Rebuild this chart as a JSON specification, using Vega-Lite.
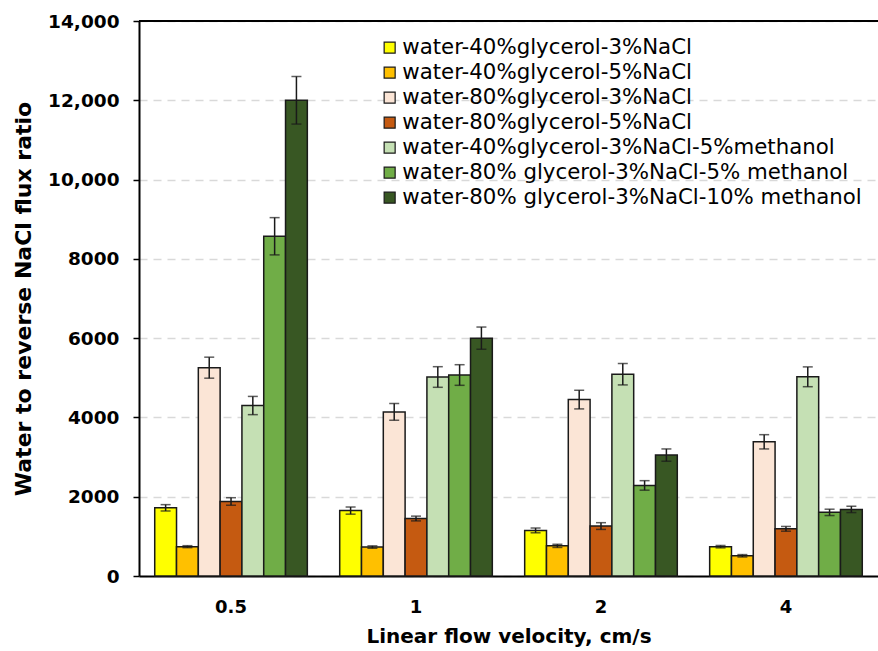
{
  "$schema": "https://vega.github.io/schema/vega-lite/v6.json",
  "width": 739,
  "height": 555,
  "autosize": {"type": "none"},
  "padding": {"left": 139, "top": 21, "right": 0, "bottom": 75},
  "background": "white",
  "config": {"view": {"stroke": null}, "font": "DejaVu Sans"},
  "datasets": {
    "bars": [
      {"v": "0.5", "s": "water-40%glycerol-3%NaCl", "y": 1720, "lo": 1640, "hi": 1800},
      {"v": "0.5", "s": "water-40%glycerol-5%NaCl", "y": 740, "lo": 715, "hi": 765},
      {"v": "0.5", "s": "water-80%glycerol-3%NaCl", "y": 5255, "lo": 4990, "hi": 5520},
      {"v": "0.5", "s": "water-80%glycerol-5%NaCl", "y": 1880, "lo": 1785, "hi": 1975},
      {"v": "0.5", "s": "water-40%glycerol-3%NaCl-5%methanol", "y": 4300, "lo": 4070, "hi": 4530},
      {"v": "0.5", "s": "water-80% glycerol-3%NaCl-5% methanol", "y": 8570, "lo": 8100, "hi": 9040},
      {"v": "0.5", "s": "water-80% glycerol-3%NaCl-10% methanol", "y": 12000, "lo": 11400, "hi": 12600},
      {"v": "1", "s": "water-40%glycerol-3%NaCl", "y": 1650, "lo": 1560, "hi": 1740},
      {"v": "1", "s": "water-40%glycerol-5%NaCl", "y": 730, "lo": 700, "hi": 760},
      {"v": "1", "s": "water-80%glycerol-3%NaCl", "y": 4140, "lo": 3930, "hi": 4350},
      {"v": "1", "s": "water-80%glycerol-5%NaCl", "y": 1450, "lo": 1390, "hi": 1510},
      {"v": "1", "s": "water-40%glycerol-3%NaCl-5%methanol", "y": 5020, "lo": 4760, "hi": 5280},
      {"v": "1", "s": "water-80% glycerol-3%NaCl-5% methanol", "y": 5070, "lo": 4810, "hi": 5330},
      {"v": "1", "s": "water-80% glycerol-3%NaCl-10% methanol", "y": 6000, "lo": 5720, "hi": 6280},
      {"v": "2", "s": "water-40%glycerol-3%NaCl", "y": 1150, "lo": 1090, "hi": 1210},
      {"v": "2", "s": "water-40%glycerol-5%NaCl", "y": 760, "lo": 720, "hi": 800},
      {"v": "2", "s": "water-80%glycerol-3%NaCl", "y": 4450, "lo": 4215, "hi": 4685},
      {"v": "2", "s": "water-80%glycerol-5%NaCl", "y": 1260, "lo": 1175, "hi": 1345},
      {"v": "2", "s": "water-40%glycerol-3%NaCl-5%methanol", "y": 5090, "lo": 4820, "hi": 5360},
      {"v": "2", "s": "water-80% glycerol-3%NaCl-5% methanol", "y": 2285, "lo": 2165, "hi": 2405},
      {"v": "2", "s": "water-80% glycerol-3%NaCl-10% methanol", "y": 3050, "lo": 2895, "hi": 3205},
      {"v": "4", "s": "water-40%glycerol-3%NaCl", "y": 740, "lo": 710, "hi": 770},
      {"v": "4", "s": "water-40%glycerol-5%NaCl", "y": 510, "lo": 480, "hi": 540},
      {"v": "4", "s": "water-80%glycerol-3%NaCl", "y": 3385, "lo": 3205, "hi": 3565},
      {"v": "4", "s": "water-80%glycerol-5%NaCl", "y": 1190, "lo": 1130, "hi": 1250},
      {"v": "4", "s": "water-40%glycerol-3%NaCl-5%methanol", "y": 5025, "lo": 4775, "hi": 5275},
      {"v": "4", "s": "water-80% glycerol-3%NaCl-5% methanol", "y": 1605, "lo": 1525, "hi": 1685},
      {"v": "4", "s": "water-80% glycerol-3%NaCl-10% methanol", "y": 1680, "lo": 1600, "hi": 1760}
    ],
    "frame": [{"top": 14000}]
  },
  "layer": [
    {
      "data": {"name": "bars"},
      "mark": {"type": "bar", "stroke": "#1a1a1a", "strokeWidth": 1.5},
      "encoding": {
        "x": {
          "field": "v", "type": "nominal", "sort": ["0.5", "1", "2", "4"],
          "scale": {"paddingInner": 0.175, "paddingOuter": 0.085},
          "axis": {
            "title": "Linear flow velocity, cm/s",
            "titleFont": "DejaVu Sans", "titleFontSize": 20, "titleFontWeight": "bold", "titleColor": "black", "titlePadding": 10,
            "labelFont": "DejaVu Sans", "labelFontSize": 18, "labelFontWeight": "bold", "labelColor": "black", "labelAngle": 0, "labelPadding": 22,
            "ticks": false, "domainColor": "black", "domainWidth": 2, "grid": false
          }
        },
        "xOffset": {
          "field": "s", "type": "nominal",
          "sort": ["water-40%glycerol-3%NaCl", "water-40%glycerol-5%NaCl", "water-80%glycerol-3%NaCl", "water-80%glycerol-5%NaCl", "water-40%glycerol-3%NaCl-5%methanol", "water-80% glycerol-3%NaCl-5% methanol", "water-80% glycerol-3%NaCl-10% methanol"],
          "scale": {"paddingInner": 0, "paddingOuter": 0}
        },
        "y": {
          "field": "y", "type": "quantitative",
          "scale": {"domain": [0, 14000], "nice": false},
          "axis": {
            "title": "Water to reverse NaCl flux ratio",
            "titleFont": "DejaVu Sans", "titleFontSize": 22, "titleFontWeight": "bold", "titleColor": "black", "titlePadding": 12,
            "labelFont": "DejaVu Sans", "labelFontSize": 18.5, "labelFontWeight": "bold", "labelColor": "black", "labelPadding": 14,
            "values": [0, 2000, 4000, 6000, 8000, 10000, 12000, 14000],
            "labelExpr": "datum.value >= 10000 ? format(datum.value, ',') : format(datum.value, 'd')",
            "domainColor": "black", "domainWidth": 2, "tickColor": "black", "tickWidth": 1.5, "tickSize": 6,
            "grid": true, "gridColor": "#d9d9d9", "gridDash": [8, 6], "gridWidth": 1.5
          }
        },
        "color": {
          "field": "s", "type": "nominal",
          "sort": ["water-40%glycerol-3%NaCl", "water-40%glycerol-5%NaCl", "water-80%glycerol-3%NaCl", "water-80%glycerol-5%NaCl", "water-40%glycerol-3%NaCl-5%methanol", "water-80% glycerol-3%NaCl-5% methanol", "water-80% glycerol-3%NaCl-10% methanol"],
          "scale": {
            "domain": ["water-40%glycerol-3%NaCl", "water-40%glycerol-5%NaCl", "water-80%glycerol-3%NaCl", "water-80%glycerol-5%NaCl", "water-40%glycerol-3%NaCl-5%methanol", "water-80% glycerol-3%NaCl-5% methanol", "water-80% glycerol-3%NaCl-10% methanol"],
            "range": ["#FFFF00", "#FFC000", "#FBE5D6", "#C55A11", "#C5E0B4", "#70AD47", "#385723"]
          },
          "legend": {
            "orient": "none", "legendX": 240, "legendY": 16, "title": null, "padding": 0,
            "symbolType": "square", "symbolSize": 121, "symbolStrokeColor": "#1a1a1a", "symbolStrokeWidth": 1.2,
            "labelFont": "DejaVu Sans", "labelFontSize": 21.3, "labelColor": "black", "labelLimit": 700,
            "rowPadding": 3, "labelOffset": 2
          }
        }
      }
    },
    {
      "data": {"name": "bars"},
      "mark": {"type": "rule", "color": "#1a1a1a", "strokeWidth": 1.5},
      "encoding": {
        "x": {"field": "v", "type": "nominal", "sort": ["0.5", "1", "2", "4"]},
        "xOffset": {"field": "s", "type": "nominal", "sort": ["water-40%glycerol-3%NaCl", "water-40%glycerol-5%NaCl", "water-80%glycerol-3%NaCl", "water-80%glycerol-5%NaCl", "water-40%glycerol-3%NaCl-5%methanol", "water-80% glycerol-3%NaCl-5% methanol", "water-80% glycerol-3%NaCl-10% methanol"]},
        "y": {"field": "lo", "type": "quantitative", "title": "Water to reverse NaCl flux ratio"},
        "y2": {"field": "hi"}
      }
    },
    {
      "data": {"name": "bars"},
      "mark": {"type": "tick", "orient": "horizontal", "color": "#1a1a1a", "size": 10, "thickness": 1.5},
      "encoding": {
        "x": {"field": "v", "type": "nominal", "sort": ["0.5", "1", "2", "4"]},
        "xOffset": {"field": "s", "type": "nominal", "sort": ["water-40%glycerol-3%NaCl", "water-40%glycerol-5%NaCl", "water-80%glycerol-3%NaCl", "water-80%glycerol-5%NaCl", "water-40%glycerol-3%NaCl-5%methanol", "water-80% glycerol-3%NaCl-5% methanol", "water-80% glycerol-3%NaCl-10% methanol"]},
        "y": {"field": "lo", "type": "quantitative", "title": "Water to reverse NaCl flux ratio"}
      }
    },
    {
      "data": {"name": "bars"},
      "mark": {"type": "tick", "orient": "horizontal", "color": "#1a1a1a", "size": 10, "thickness": 1.5},
      "encoding": {
        "x": {"field": "v", "type": "nominal", "sort": ["0.5", "1", "2", "4"]},
        "xOffset": {"field": "s", "type": "nominal", "sort": ["water-40%glycerol-3%NaCl", "water-40%glycerol-5%NaCl", "water-80%glycerol-3%NaCl", "water-80%glycerol-5%NaCl", "water-40%glycerol-3%NaCl-5%methanol", "water-80% glycerol-3%NaCl-5% methanol", "water-80% glycerol-3%NaCl-10% methanol"]},
        "y": {"field": "hi", "type": "quantitative", "title": "Water to reverse NaCl flux ratio"}
      }
    },
    {
      "data": {"name": "frame"},
      "mark": {"type": "rule", "color": "black", "strokeWidth": 2},
      "encoding": {
        "y": {"field": "top", "type": "quantitative", "title": "Water to reverse NaCl flux ratio"}
      }
    }
  ]
}
